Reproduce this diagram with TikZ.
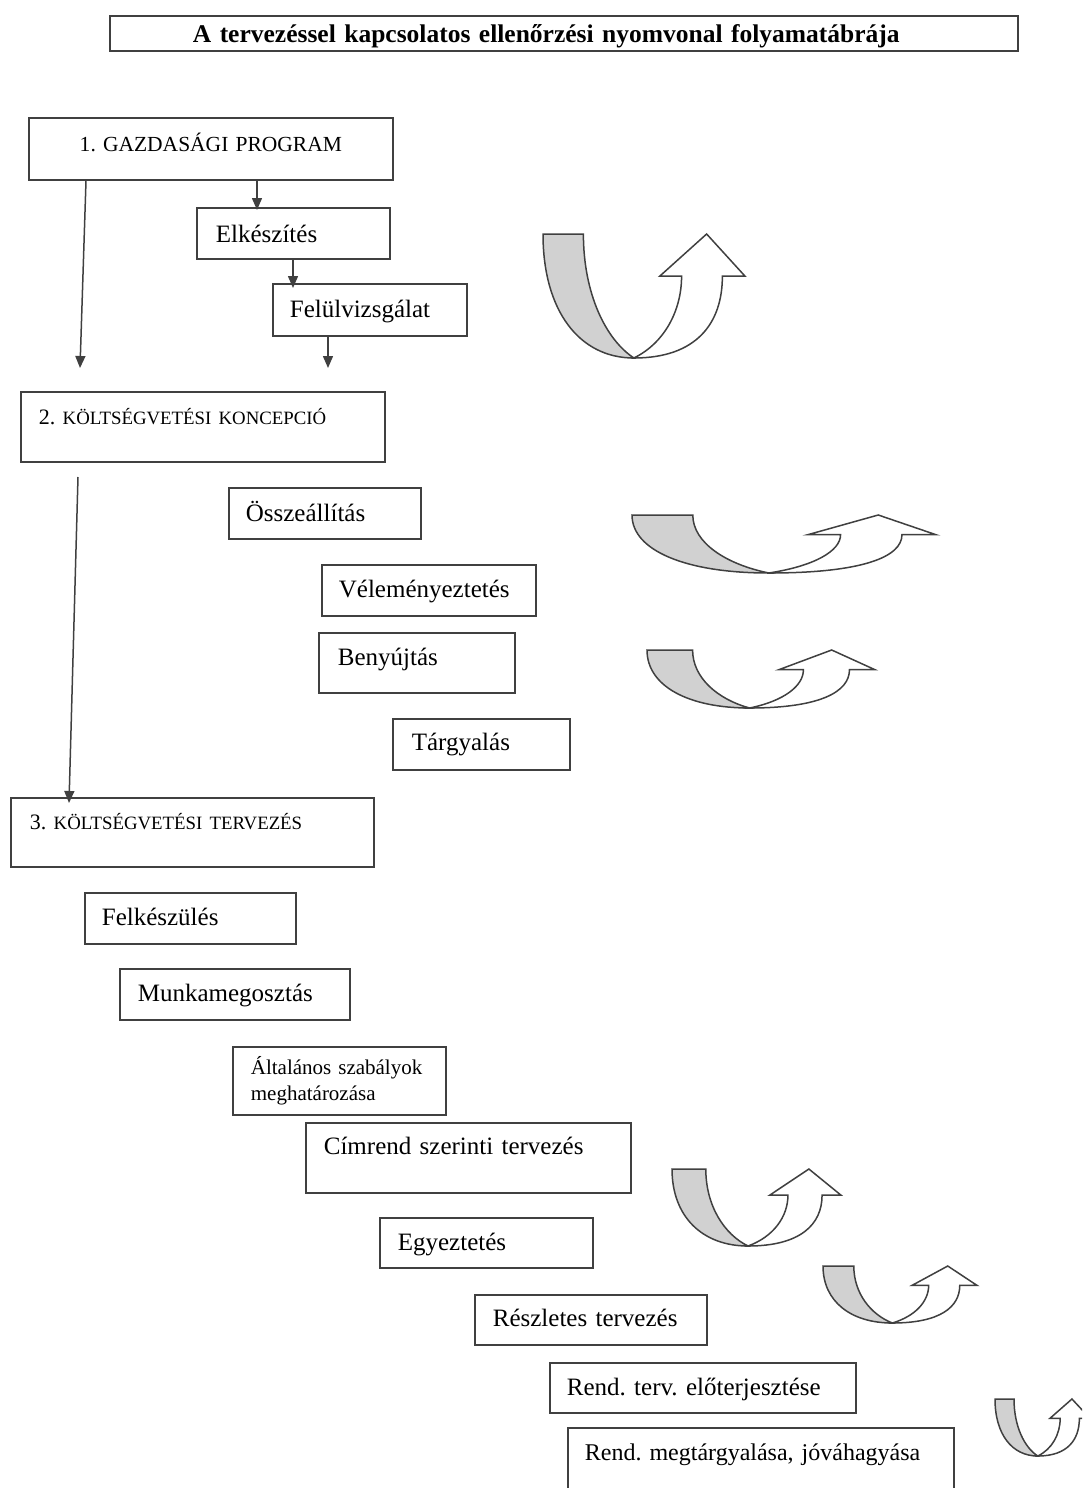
\documentclass[tikz,border=0pt]{standalone}
\usepackage{fontspec}
\setmainfont{Liberation Serif}
\usetikzlibrary{arrows.meta}
\hyphenpenalty=10000
\frenchspacing

\colorlet{flowLineColour}{black!75}
\colorlet{flowBandColour}{black!18}

% grey/white U-turn arrow, top-left corner at (#1,#2), width #3, height #4
\newcommand{\uturnarrow}[4]{%
	\begin{scope}[shift={(#1,#2)},xscale=#3,yscale=#4]
		\filldraw[fill=flowBandColour,draw=flowLineColour,line width=1.5pt] (0,0) -- (0.2,0) .. controls (0.2,0.48) and (0.31,0.85) .. (0.45,1) .. controls (0.18,1) and (0,0.62) .. (0,0) -- cycle;
		\filldraw[fill=white,draw=flowLineColour,line width=1.5pt] (0.45,1) .. controls (0.6,0.88) and (0.686,0.62) .. (0.686,0.34) -- (0.578,0.34) -- (0.81,0) -- (1,0.34) -- (0.888,0.34) .. controls (0.888,0.72) and (0.76,1) .. (0.45,1) -- cycle;
	\end{scope}%
}
\newcommand{\kiskap}[1]{{\fontsize{18.8}{22}\selectfont #1}}

\begin{document}
\begin{tikzpicture}[x=1pt,y=-1pt,
	stepbox/.style={draw=flowLineColour,line width=1.7pt,anchor=north west,inner sep=0pt,align=left,font=\fontsize{25}{30}\selectfont},
	flowarrow/.style={draw=flowLineColour,line width=1.5pt,-{Triangle[width=10pt,length=12pt]}}]
\path[use as bounding box] (0,0) rectangle (1082,1488);
\clip (0,0) rectangle (1082,1488);

% title
\node[stepbox,minimum width=908pt,minimum height=35pt,text width=742pt,text height=27pt,text depth=8pt,font=\bfseries\fontsize{25.5}{30}\selectfont] (cim) at (109,15) {A tervezéssel kapcsolatos ellenőrzési nyomvonal folyamatábrája};

% 1. gazdasagi program
\node[stepbox,align=center,minimum width=364pt,minimum height=62pt,text width=344pt,text height=34pt,text depth=28pt,font=\fontsize{21.5}{26}\selectfont] (gazd) at (28,117) {1. GAZDASÁGI PROGRAM};
\node[stepbox,minimum width=193pt,minimum height=51pt,text width=155pt,text height=35pt,text depth=16pt] (elk) at (196,207) {Elkészítés};
\node[stepbox,minimum width=194pt,minimum height=52pt,text width=160pt,text height=34pt,text depth=18pt] (felul) at (272,283) {Felülvizsgálat};

% 2. koltsegvetesi koncepcio
\node[stepbox,minimum width=364pt,minimum height=70pt,text width=328pt,text height=33pt,text depth=37pt,font=\fontsize{22}{26}\selectfont] (konc) at (20,391) {2. \kiskap{KÖLTSÉGVETÉSI KONCEPCIÓ}};
\node[stepbox,minimum width=192pt,minimum height=51pt,text width=158pt,text height=34pt,text depth=17pt] (ossz) at (228,487) {Összeállítás};
\node[stepbox,minimum width=214pt,minimum height=51pt,text width=180pt,text height=33pt,text depth=18pt] (velem) at (321,564) {Véleményeztetés};
\node[stepbox,minimum width=196pt,minimum height=60pt,text width=158pt,text height=33pt,text depth=27pt] (benyuj) at (318,632) {Benyújtás};
\node[stepbox,minimum width=177pt,minimum height=51pt,text width=139pt,text height=32pt,text depth=19pt] (targy) at (392,718) {Tárgyalás};

% 3. koltsegvetesi tervezes
\node[stepbox,minimum width=363pt,minimum height=69pt,text width=325pt,text height=32pt,text depth=37pt,font=\fontsize{22}{26}\selectfont] (terv) at (10,797) {3. \kiskap{KÖLTSÉGVETÉSI TERVEZÉS}};
\node[stepbox,minimum width=211pt,minimum height=51pt,text width=177pt,text height=33pt,text depth=18pt] (felk) at (84,892) {Felkészülés};
\node[stepbox,minimum width=230pt,minimum height=51pt,text width=194pt,text height=33pt,text depth=18pt] (munka) at (119,968) {Munkamegosztás};
\node[stepbox,minimum width=213pt,minimum height=68pt,text width=177pt,text height=28pt,text depth=40pt,font=\fontsize{21}{26}\selectfont] (altal) at (232,1046) {Általános szabályok\\meghatározása};
\node[stepbox,minimum width=325pt,minimum height=70pt,text width=289pt,text height=32pt,text depth=38pt] (cimrend) at (305,1122) {Címrend szerinti tervezés};
\node[stepbox,minimum width=213pt,minimum height=50pt,text width=177pt,text height=33pt,text depth=17pt] (egyezt) at (379,1217) {Egyeztetés};
\node[stepbox,minimum width=232pt,minimum height=50pt,text width=196pt,text height=32pt,text depth=18pt] (reszl) at (474,1294) {Részletes tervezés};
\node[stepbox,minimum width=306pt,minimum height=50pt,text width=272pt,text height=33pt,text depth=17pt] (rendterv) at (549,1362) {Rend. terv. előterjesztése};
\node[stepbox,minimum width=386pt,minimum height=90pt,text width=352pt,text height=33pt,text depth=57pt,font=\fontsize{24}{29}\selectfont] (rendmeg) at (567,1427) {Rend. megtárgyalása, jóváhagyása};

% connectors
\coordinate (gazdvege) at (80,368);
\coordinate (felulvege) at (328,368);
\coordinate (koncindul) at (78,477);
\draw[flowarrow] ([xshift=61pt]elk.north west |- gazd.south) -- ([xshift=61pt,yshift=-3pt]elk.north west);
\draw[flowarrow] ([xshift=21pt]felul.north west |- elk.south) -- ([xshift=21pt,yshift=-5pt]felul.north west);
\draw[flowarrow] (felul.south -| felulvege) -- (felulvege);
\draw[flowarrow] ([xshift=58pt]gazd.south west) -- (gazdvege);
\draw[flowarrow] (koncindul) -- ([xshift=59pt,yshift=-6pt]terv.north west);

% U-turn arrows
\foreach \ux/\uy/\uw/\uh in {543/234/202/124, 632/515/304/58, 647/650/228/58, 672/1169/169/77, 823/1266/154/57, 995/1399/95/57}
{%
	\uturnarrow{\ux}{\uy}{\uw}{\uh}
}%
\end{tikzpicture}
\end{document}
